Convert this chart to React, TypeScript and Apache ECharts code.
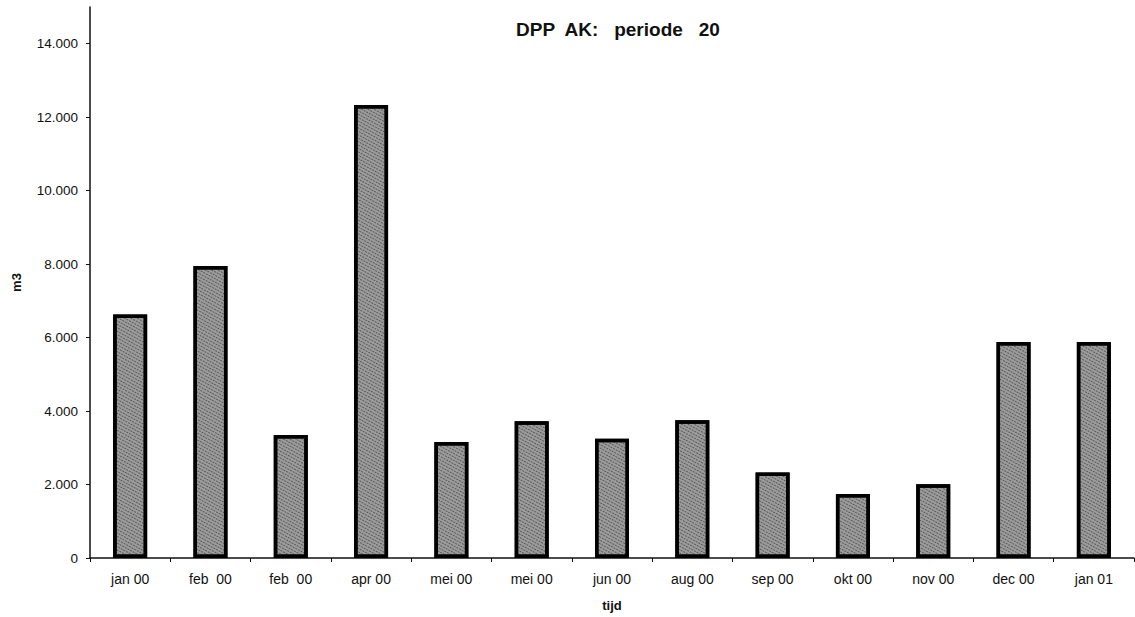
import React, { useEffect, useRef } from "react";
import * as echarts from "echarts";

const categories = [
  "jan 00", "feb  00", "feb  00", "apr 00", "mei 00", "mei 00", "jun 00",
  "aug 00", "sep 00", "okt 00", "nov 00", "dec 00", "jan 01",
];
const volumes = [6630, 7950, 3350, 12330, 3155, 3725, 3245, 3750, 2325, 1745, 2010, 5880, 5880];
const titleText = "DPP  AK:   periode   20";
const yName = "m3";
const xName = "tijd";

const fmt = (v: number) => {
  if (v === 0) return "0";
  const s = String(v);
  return s.slice(0, s.length - 3) + "." + s.slice(s.length - 3);
};

export default function App() {
  const ref = useRef<HTMLDivElement>(null);
  useEffect(() => {
    if (!ref.current) return;
    const chart = echarts.init(ref.current, undefined, { renderer: "svg" });
    const font = "Liberation Sans, Arial, sans-serif";
    chart.setOption({
      animation: false,
      backgroundColor: "#ffffff",
      title: {
        text: titleText,
        left: 511,
        top: 15,
        textStyle: { fontFamily: font, fontSize: 19, fontWeight: "bold", color: "#111" },
      },
      grid: { left: 90, right: 1, top: 7, bottom: 50, containLabel: false },
      xAxis: {
        type: "category",
        data: categories,
        name: xName,
        nameLocation: "middle",
        nameGap: 41,
        nameTextStyle: { fontFamily: font, fontSize: 13, fontWeight: "bold", color: "#111" },
        axisLine: { lineStyle: { color: "#111", width: 1.5 } },
        axisTick: { show: true, alignWithLabel: false, length: 4, lineStyle: { color: "#111" } },
        axisLabel: { fontFamily: font, fontSize: 14, color: "#111", margin: 14 },
      },
      yAxis: {
        type: "value",
        min: 0,
        max: 15000,
        interval: 2000,
        name: yName,
        nameLocation: "middle",
        nameGap: 67,
        nameTextStyle: { fontFamily: font, fontSize: 13, fontWeight: "bold", color: "#111" },
        splitLine: { show: false },
        axisLine: { show: true, lineStyle: { color: "#111", width: 1.5 } },
        axisTick: { show: true, length: 4, lineStyle: { color: "#111" } },
        axisLabel: {
          fontFamily: font,
          fontSize: 13.5,
          color: "#111",
          margin: 12,
          showMaxLabel: false,
          formatter: (v: number) => (v > 14000 ? "" : fmt(v)),
        },
      },
      series: [
        {
          type: "bar",
          data: volumes,
          barWidth: 34,
          itemStyle: {
            color: "#9c9c9c",
            borderColor: "#000",
            borderWidth: 3.5,
            decal: {
              symbol: "rect",
              symbolSize: 1,
              color: "rgba(30,30,30,0.55)",
              dashArrayX: [2, 1],
              dashArrayY: [1, 2],
              rotation: 0.5,
            },
          },
        },
      ],
    });
    return () => chart.dispose();
  }, []);
  return <div ref={ref} style={{ width: 1135, height: 617, position: "absolute", left: 0, top: 0 }} />;
}
